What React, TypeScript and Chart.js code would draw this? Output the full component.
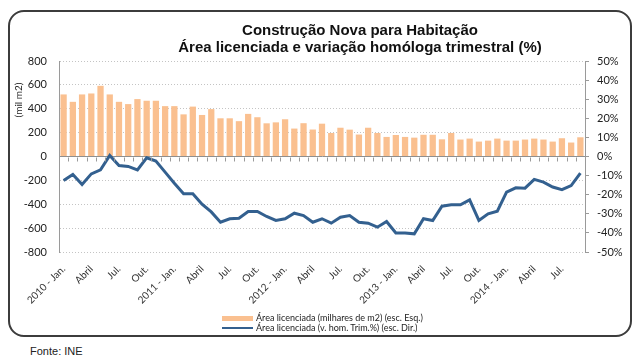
import React, { useEffect, useRef } from "react";
import { Chart, registerables } from "chart.js";

Chart.register(...registerables);

const months = [
  "2010 - Jan.", "Fev.", "Mar.", "Abril", "Maio", "Jun.", "Jul.", "Ago.", "Set.", "Out.", "Nov.", "Dez.",
  "2011 - Jan.", "Fev.", "Mar.", "Abril", "Maio", "Jun.", "Jul.", "Ago.", "Set.", "Out.", "Nov.", "Dez.",
  "2012 - Jan.", "Fev.", "Mar.", "Abril", "Maio", "Jun.", "Jul.", "Ago.", "Set.", "Out.", "Nov.", "Dez.",
  "2013 - Jan.", "Fev.", "Mar.", "Abril", "Maio", "Jun.", "Jul.", "Ago.", "Set.", "Out.", "Nov.", "Dez.",
  "2014 - Jan.", "Fev.", "Mar.", "Abril", "Maio", "Jun.", "Jul.", "Ago.", "Set.",
];

const tickLabels = [
  "2010 - Jan.", "Abril", "Jul.", "Out.",
  "2011 - Jan.", "Abril", "Jul.", "Out.",
  "2012 - Jan.", "Abril", "Jul.", "Out.",
  "2013 - Jan.", "Abril", "Jul.", "Out.",
  "2014 - Jan.", "Abril", "Jul.",
];

// Área licenciada (milhares de m2)
const areaLicenciada = [
  520, 458, 520, 528, 592, 520, 458, 439, 481, 467, 467, 422,
  422, 353, 418, 348, 397, 320, 320, 296, 357, 329, 278, 286,
  312, 234, 279, 226, 275, 197, 241, 225, 184, 241, 197, 164,
  180, 164, 158, 182, 182, 144, 197, 142, 150, 125, 133, 150,
  133, 133, 142, 150, 142, 125, 153, 117, 161,
];

// Área licenciada (v. hom. Trim. %)
const variacaoHomologa = [
  -12.6, -9.4, -14.7, -9.1, -7.0, 0.5, -4.7, -5.2, -7.0, -0.7, -2.4, -8.2,
  -14.0, -19.5, -19.5, -25.0, -29.0, -34.4, -32.6, -32.3, -28.8, -28.8, -31.4, -33.5,
  -32.6, -29.7, -30.9, -34.4, -32.6, -34.9, -31.8, -30.9, -34.4, -34.9, -37.0, -34.0,
  -40.0, -40.0, -40.5, -32.6, -33.5, -26.0, -25.3, -25.3, -22.7, -33.5, -30.0, -28.6,
  -18.7, -16.4, -16.6, -12.0, -13.4, -16.0, -17.4, -15.2, -8.7,
];

const BAR_COLOR = "#FAC090";
const LINE_COLOR = "#33608F";
const TICK_FONT = "Lato";

export default function App() {
  const ref = useRef<HTMLCanvasElement>(null);

  useEffect(() => {
    if (!ref.current) return;

    const extras = {
      id: "extras",
      afterDatasetsDraw(chart: any) {
        const x = chart.scales.x;
        const y = chart.scales.y;
        const ctx = chart.ctx;
        const y0 = Math.round(y.getPixelForValue(0)) + 0.5;
        const n = months.length;
        const w = (x.right - x.left) / n;
        ctx.save();
        ctx.strokeStyle = "#9a9a9a";
        ctx.lineWidth = 1;
        ctx.beginPath();
        for (let i = 0; i <= n; i++) {
          const px = Math.round(x.left + i * w) + 0.5;
          ctx.moveTo(px, y0);
          ctx.lineTo(px, y0 + 4);
        }
        ctx.stroke();
        ctx.restore();
      },
      afterDraw(chart: any) {
        const ctx = chart.ctx;
        ctx.save();
        ctx.translate(9, 88);
        ctx.rotate(-Math.PI / 2);
        ctx.font = `10px ${TICK_FONT}`;
        ctx.fillStyle = "#222";
        ctx.textAlign = "center";
        ctx.textBaseline = "middle";
        ctx.fillText("(mil m2)", 0, 0);
        ctx.restore();
      },
    };

    const chart = new Chart(ref.current, {
      type: "bar",
      data: {
        labels: months,
        datasets: [
          {
            type: "line",
            label: "Área licenciada (v. hom. Trim.%) (esc. Dir.)",
            data: variacaoHomologa,
            yAxisID: "y1",
            borderColor: LINE_COLOR,
            backgroundColor: LINE_COLOR,
            borderWidth: 3,
            pointRadius: 0,
            tension: 0,
            order: 1,
          } as any,
          {
            type: "bar",
            label: "Área licenciada (milhares de m2) (esc. Esq.)",
            data: areaLicenciada,
            yAxisID: "y",
            backgroundColor: BAR_COLOR,
            borderWidth: 0,
            categoryPercentage: 1,
            barPercentage: 0.68,
            order: 2,
          },
        ],
      },
      options: {
        animation: false,
        responsive: true,
        maintainAspectRatio: false,
        layout: { padding: { top: 49, left: 0, right: 0, bottom: 0 } },
        plugins: {
          legend: { display: false },
          title: { display: false },
          tooltip: { enabled: false },
        },
        scales: {
          x: {
            grid: { display: false },
            border: { display: false },
            ticks: {
              autoSkip: false,
              maxRotation: 45,
              minRotation: 45,
              padding: 3,
              color: "#333",
              font: { family: TICK_FONT, size: 10 },
              callback: (_v: any, i: number) => (i % 3 === 0 ? tickLabels[i / 3] : ""),
            },
            afterFit: (s: any) => {
              s.height = 82;
              s.paddingLeft = 0;
              s.paddingRight = 0;
            },
          },
          y: {
            position: "left",
            min: -800,
            max: 800,
            ticks: {
              stepSize: 200,
              padding: 12,
              color: "#222",
              font: { family: TICK_FONT, size: 11 },
            },
            grid: {
              drawTicks: false,
              color: (c: any) => (c.tick && c.tick.value === 0 ? "#8f8f8f" : "#c4c4c4"),
              lineWidth: 1,
            },
            border: {
              display: true,
              color: "#9a9a9a",
              dash: (c: any) => (c.type === "tick" && c.tick && c.tick.value !== 0 ? [1, 2] : []),
            } as any,
            afterFit: (s: any) => {
              s.width = 49;
            },
          },
          y1: {
            position: "right",
            min: -50,
            max: 50,
            ticks: {
              stepSize: 10,
              padding: 8,
              color: "#222",
              font: { family: TICK_FONT, size: 11 },
              callback: (v: any) => `${v}%`,
            },
            grid: {
              drawOnChartArea: false,
              drawTicks: true,
              tickLength: 4,
              color: "#9a9a9a",
            },
            border: { display: true, color: "#9a9a9a" },
            afterFit: (s: any) => {
              s.width = 45;
            },
          },
        },
      },
      plugins: [extras],
    });

    return () => chart.destroy();
  }, []);

  const legendText: React.CSSProperties = {
    fontFamily: TICK_FONT,
    fontSize: 9,
    color: "#222",
    whiteSpace: "nowrap",
    lineHeight: "10px",
  };

  return (
    <div style={{ position: "relative", width: 624, height: 354 }}>
      <div
        style={{
          position: "absolute",
          left: 0,
          top: 2,
          width: 624,
          height: 327,
          border: "2px solid #3c3c3c",
          borderRadius: 16,
          boxSizing: "border-box",
        }}
      />
      <div style={{ position: "absolute", left: 2, top: 4, width: 620, height: 322 }}>
        <canvas ref={ref} />
      </div>
      <div
        style={{
          position: "absolute",
          left: 152,
          top: 13,
          width: 400,
          textAlign: "center",
          fontFamily: "'Liberation Sans', Arial, sans-serif",
          fontWeight: "bold",
          fontSize: 15,
          lineHeight: "17px",
          color: "#111",
        }}
      >
        <div>Construção Nova para Habitação</div>
        <div>Área licenciada e variação homóloga trimestral (%)</div>
      </div>
      <div style={{ position: "absolute", left: 214, top: 305 }}>
        <div style={{ display: "flex", alignItems: "center", height: 10 }}>
          <div style={{ width: 31, height: 5, background: BAR_COLOR, marginRight: 3 }} />
          <span style={legendText}>Área licenciada (milhares de m2) (esc. Esq.)</span>
        </div>
        <div style={{ display: "flex", alignItems: "center", height: 10 }}>
          <div style={{ width: 31, height: 2, background: LINE_COLOR, marginRight: 3 }} />
          <span style={legendText}>Área licenciada (v. hom. Trim.%) (esc. Dir.)</span>
        </div>
      </div>
      <div
        style={{
          position: "absolute",
          left: 22,
          top: 337,
          fontFamily: "'Liberation Sans', Arial, sans-serif",
          fontSize: 11,
          lineHeight: "13px",
          color: "#222",
        }}
      >
        Fonte: INE
      </div>
    </div>
  );
}
